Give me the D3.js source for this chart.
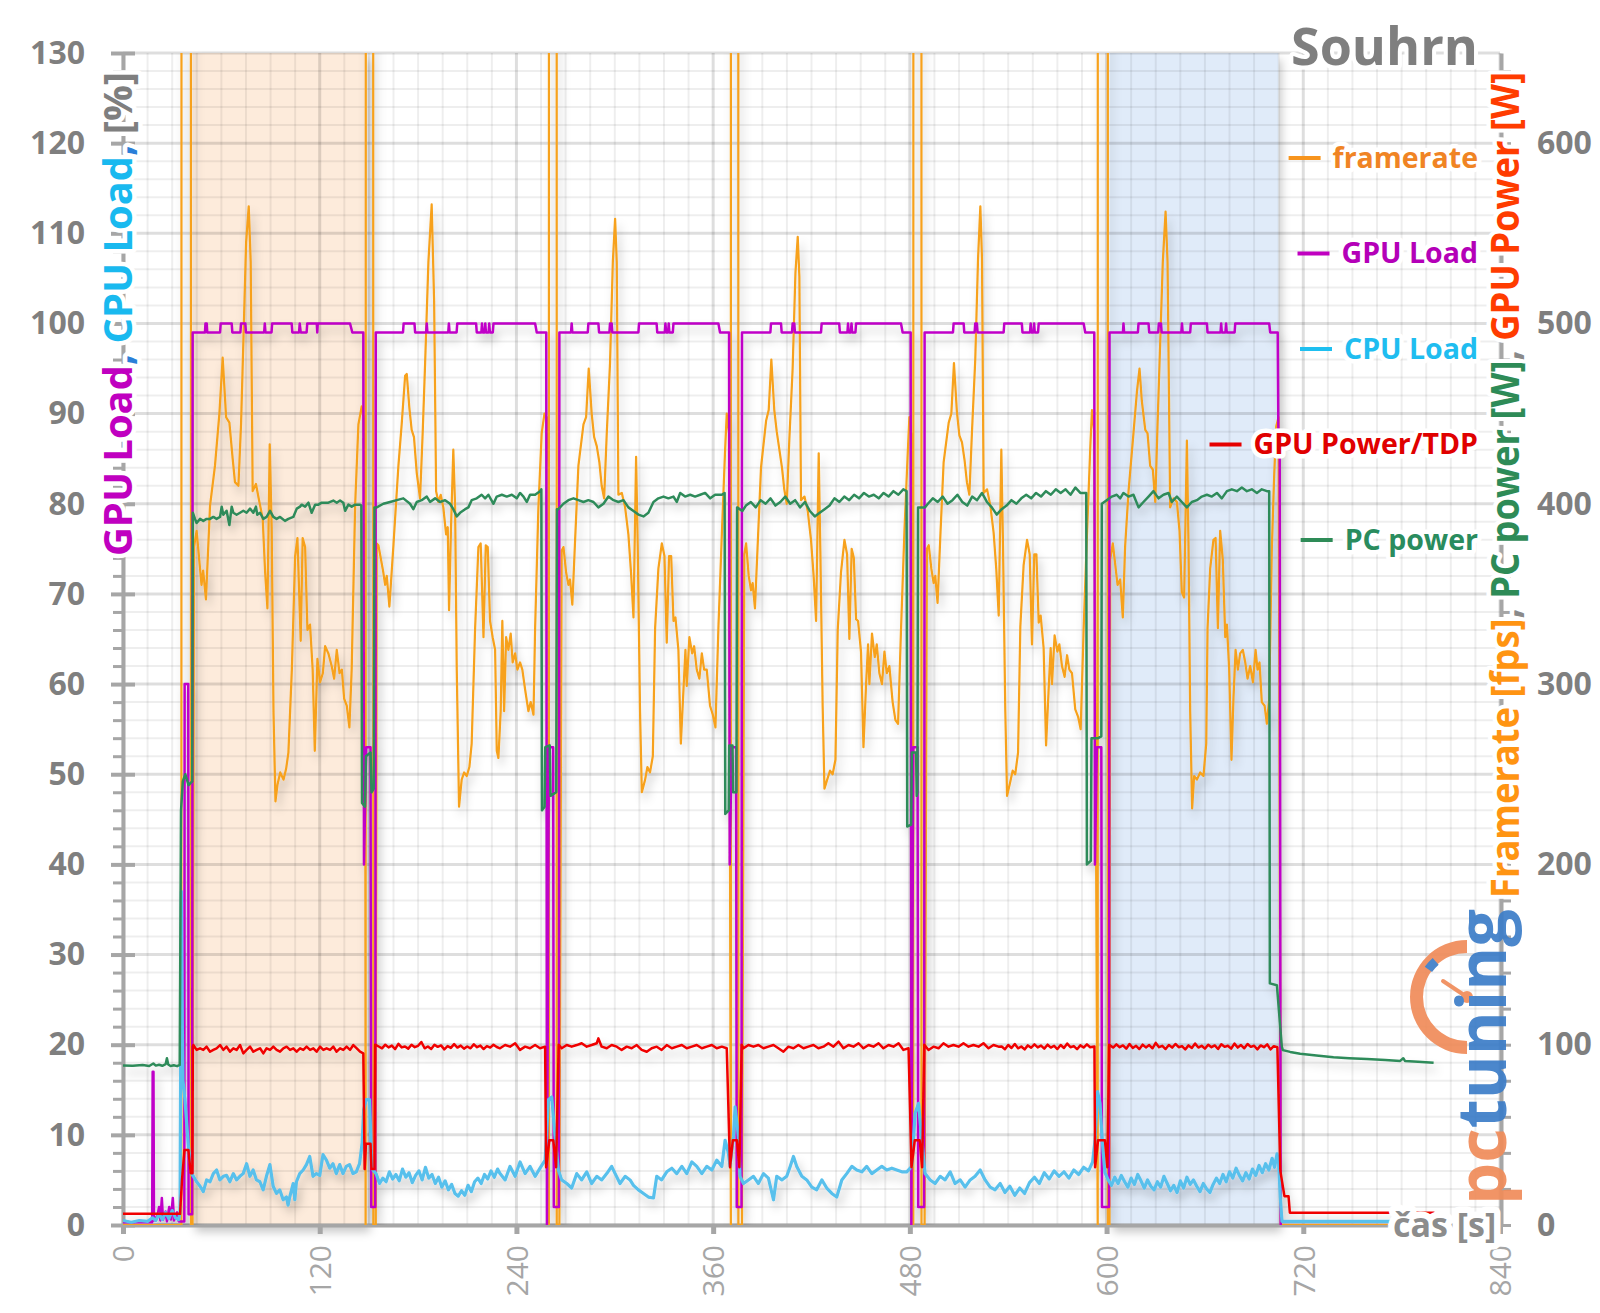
<!DOCTYPE html>
<html>
<head>
<meta charset="utf-8">
<script src="https://cdn.jsdelivr.net/npm/d3@7"></script>
<style>
body { margin: 0; background: #fff; }
svg { display: block; }
text { font-family: "Open Sans", sans-serif; }
</style>
</head>
<body>
<svg width="1600" height="1313"></svg>
<script>
// ---- data: [time s, value] ----
const framerate = [
[0,0],[35.6,0],[35.8,2000],[41.3,2000],[41.5,0],[42.4,0],
[43.3,376],[44.9,385],[47.9,355],[48.9,363],[50.6,347],[53.1,399],[56.1,421],[58.8,450],[60.8,481],[62.9,448],[64.9,445],[66.9,425],[68.3,412],[70.4,410],[72,444],[73.4,489],[75.1,545],[76.7,565],[77.9,534],[79.1,407],[81.1,411],[83.2,401],[85.2,392],[86.7,362],[88.1,342],[89.5,433],[90.7,387],[91.8,285],[93,235],[94.2,244],[95.9,251],[97.9,247],[99.5,253],[100.9,262],[103,308],[105,371],[106.4,381],[108.4,324],[109.6,381],[111.1,376],[112.5,330],[114.1,333],[115.7,308],[117,263],[118.6,314],[120.2,301],[121.9,306],[123.3,321],[125.3,317],[127.3,310],[128.8,303],[130.4,319],[132.1,306],[133.5,308],[134.9,292],[136.5,288],[138.1,276],[139.5,308],[141.6,399],[143.6,444],[145.6,454],[146.7,448],[147.7,399],
[148,0],[148.3,2000],[152.5,2000],[152.7,0],[154.2,0],
[154.8,378],[155.8,377],[158.8,362],[159.9,355],[160.9,360],[162.5,343],[164.9,376],[168,421],[170,444],[172.1,471],[173.1,472],[174.7,453],[176.1,441],[177.5,437],[179.2,417],[181.2,403],[182.8,439],[184.3,478],[186.3,534],[188.3,566],[189.8,512],[191,407],[192.4,401],[193.8,405],[195.4,398],[197.1,383],[198.1,387],[198.9,341],[200.1,387],[201.5,430],[202.6,398],[203.6,308],[205,232],[206.6,247],[208.1,251],[209.7,249],[211.3,254],[212.7,267],[214.8,331],[216.8,376],[218.2,378],[219.9,326],[221.3,377],[222.5,376],[223.9,335],[225.5,326],[227,319],[228,263],[229,259],[230.4,285],[231.4,335],[232.5,285],[233.7,326],[235.1,319],[236.5,328],[237.7,312],[239.2,317],[240.6,308],[242.2,312],[243.6,308],[245.3,297],[247.3,285],[248.7,290],[250.4,283],[251.4,331],[253.4,398],[255.4,439],[257.1,450],[258.5,448],[259.5,421],
[259.8,0],[259.9,2000],[264.5,2000],[264.6,0],[266.2,0],
[267.6,374],[268.7,376],[270.3,362],[271.7,355],[272.7,358],[274.1,344],[275.8,380],[277.8,421],[280.9,444],[282.5,448],[284.1,475],[285.9,450],[287.4,437],[289,432],[290.6,423],[292,410],[293.5,403],[295.1,439],[297.1,478],[298.8,534],[300.2,558],[301.2,534],[302.2,405],[304.3,406],[306.3,398],[308.3,383],[309.9,362],[311.4,337],[313,426],[314,376],[315.4,285],[316.5,240],[318.5,247],[319.9,254],[321.5,251],[323.2,260],[324.6,331],[326.6,364],[328.7,378],[330.3,371],[331.7,323],[333.1,371],[334.4,371],[335.8,335],[337,337],[338.8,319],[340.3,267],[341.9,297],[343.1,319],[343.9,299],[345.5,326],[347.2,317],[348.4,321],[350,308],[351.6,303],[353.1,317],[354.5,308],[356.1,308],[358.1,288],[359.8,283],[361.4,276],[363.2,331],[365.3,383],[367.3,430],[368.3,450],[369.7,439],
[370.8,0],[370.9,2000],[375.3,2000],[375.4,0],[377.6,0],
[379,372],[380.1,378],[381.7,360],[383.1,352],[384.1,356],[385.5,342],[387.2,378],[389.2,420],[392.3,446],[393.9,452],[395.5,480],[397.3,452],[398.8,440],[400.4,430],[402,420],[403.4,408],[404.9,400],[406.5,436],[408.5,475],[410.2,528],[411.6,548],[412.6,526],[413.6,402],[415.7,404],[417.7,396],[419.7,380],[421.3,360],[422.8,335],[424.4,428],[425.4,374],[426.8,288],[427.9,242],[429.9,248],[431.3,252],[432.9,250],[434.6,258],[436,330],[438,362],[440.1,380],[441.7,372],[443.1,325],[444.5,375],[445.8,370],[447.2,336],[448.4,335],[450.2,318],[451.7,265],[453.3,300],[454.5,322],[455.3,300],[456.9,328],[458.6,315],[459.8,322],[461.4,306],[463,300],[464.5,318],[465.9,306],[467.5,310],[469.5,290],[471.2,280],[472.8,278],[474.6,330],[476.7,385],[478.7,428],[479.7,448],[481.1,436],
[482.1,0],[482.2,2000],[487,2000],[487.1,0],[489,0],
[490.4,375],[491.5,377],[493.1,364],[494.5,356],[495.5,360],[496.9,345],[498.6,382],[500.6,423],[503.7,445],[505.3,450],[506.9,478],[508.7,451],[510.2,438],[511.8,434],[513.4,424],[514.8,412],[516.3,405],[517.9,440],[519.9,480],[521.6,536],[523,565],[524,536],[525,406],[527.1,408],[529.1,399],[531.1,384],[532.7,364],[534.2,338],[535.8,430],[536.8,378],[538.2,286],[539.3,238],[541.3,246],[542.7,252],[544.3,250],[546,262],[547.4,332],[549.4,366],[551.5,380],[553.1,372],[554.5,322],[555.9,372],[557.2,372],[558.6,334],[559.8,338],[561.6,320],[563.1,266],[564.7,298],[565.9,320],[566.7,300],[568.3,327],[570,318],[571.2,322],[572.8,310],[574.4,304],[575.9,316],[577.3,308],[578.9,306],[580.9,286],[582.6,282],[584.2,275],[586,330],[588.1,384],[590.1,432],[591.1,452],[592.5,440],
[594.6,0],[594.7,2000],[600.7,2000],[600.8,0],[601.8,0],
[602.2,369],[603.8,378],[605.2,367],[606.7,355],[608.3,358],[609.9,337],[611.3,376],[613.4,407],[616.4,439],[618.5,462],[620.1,475],[621.5,457],[623.6,441],[625,439],[626.6,421],[628.2,419],[629.7,401],[631.1,444],[632.7,489],[634.3,534],[636,562],[637.2,534],[638.8,398],[640.8,403],[642.9,401],[644.5,385],[645.9,351],[647.3,348],[649,435],[650,376],[651,285],[652.2,231],[653.4,249],[655.1,247],[657.1,251],[659.1,249],[660.8,267],[661.6,331],[663.2,364],[665.2,380],[666.5,381],[667.9,331],[669.3,385],[670.9,369],[672.4,326],[673.4,333],[674.8,308],[676.2,258],[677.4,292],[678.7,319],[680.1,308],[681.5,317],[683.1,319],[684.6,312],[686,303],[687.6,310],[689.3,301],[690.9,319],[692.1,308],[693.3,312],[694.7,290],[696.4,288],[697.8,278],[699.2,292],[700.8,375],[702.3,417],[703.5,443],[704.9,448],
[706.3,0],[785,0]
];

const gpuLoad = [
[0,0.3],[17.8,0.3],[18.1,17],[18.6,17],[18.9,0.5],[21,1],[22,2],[22.8,0.5],[23.7,3],[24.4,0.6],[26,1.5],[26.8,0.4],[28.2,2],[29.2,0.6],[30.4,3],[31.1,0.5],[33,1.4],[34,0.4],[37.4,0.4],[37.6,60],[39.8,60],[40,1.2],[42.2,1.2],[42.5,99],
[50,99],[50.3,100],[51.1,100],[51.4,99],[59.2,99],[59.6,100],[66.3,100],[66.7,99],[71.6,99],[72,100],[74.6,100],[75,99],[86.1,99],[86.5,100],[86.9,99],[90.6,99],[91,100],[102.9,100],[103.3,99],[107.4,99],[107.8,100],[108.4,99],[112,99],[112.4,100],[118.2,100],[118.5,99],[118.8,100],[138.5,100],[139.9,99],[146.6,99],
[147,40],[148.4,53],[151,53],[151.4,2],[153.9,2],[154.2,99],
[170.8,99],[171.2,100],[177.8,100],[178.2,99],[184.9,99],[185.3,100],[185.7,99],[198.4,99],[198.8,100],[199.2,99],[203.5,99],[203.9,100],[215.4,100],[215.8,99],[218.6,99],[219,100],[219.4,99],[220.6,99],[221,100],[221.4,99],[223,99],[223.4,100],[223.8,99],[225.6,99],[226,100],[251.4,100],[252.4,99],[258.2,99],
[258.6,0],[259.8,53],[262.4,53],[262.8,2],[265.9,2],[266.2,99],
[273.3,99],[273.7,100],[274.1,99],[283.5,99],[283.9,100],[290,100],[290.4,99],[296.7,99],[297.1,100],[298.1,100],[298.5,99],[314.4,99],[314.8,100],[325.5,100],[325.9,99],[330.5,99],[330.9,100],[331.3,99],[332.5,99],[332.9,100],[333.3,99],[335.4,99],[335.8,100],[363.2,100],[364.2,99],[369.7,99],
[370.1,40],[371.3,53],[374,53],[374.4,2],[377.3,2],[377.6,99],
[394.9,99],[395.3,100],[401.4,100],[401.8,99],[408.1,99],[408.5,100],[409.5,100],[409.9,99],[425.8,99],[426.2,100],[436.9,100],[437.3,99],[441.9,99],[442.3,100],[442.7,99],[444,99],[444.4,100],[444.8,99],[446.8,99],[447.2,100],[474.6,100],[475.6,99],[480.5,99],
[480.9,0],[482.1,53],[484.7,53],[485.1,2],[488.7,2],[489,99],
[506.3,99],[506.7,100],[512.8,100],[513.2,99],[519.5,99],[519.9,100],[520.9,100],[521.3,99],[537.2,99],[537.6,100],[548.3,100],[548.7,99],[553.3,99],[553.7,100],[554.1,99],[555.4,99],[555.8,100],[556.2,99],[558.2,99],[558.6,100],[586,100],[587,99],[592.5,99],
[592.9,40],[594.1,53],[596.8,53],[597.2,2],[601.5,2],[601.8,99],
[610,99],[610.3,100],[610.7,99],[619.1,99],[619.5,100],[625.6,100],[626,99],[631.5,99],[631.9,100],[633.2,100],[633.6,99],[645.6,99],[646,100],[646.4,99],[651,99],[651.4,100],[661.2,100],[661.6,99],[669.5,99],[669.9,100],[670.3,99],[672.5,99],[672.9,100],[673.3,99],[678.1,99],[678.5,100],[699.2,100],[699.8,99],[704.4,99],
[704.8,88],[705.6,88],[706.2,0],[707,0]
];

const cpuLoad = [
[0,0.5],[5,0.3],[10,0.5],[15,0.4],[18,0.8],[20,0.5],[22,1.2],[24,0.6],[26,1.4],[28,0.7],[30,1.6],[32,0.8],[34,0.6],[34.8,1.5],[35.6,37],[36.2,22],[36.6,16],[37.8,13.9],[39.9,8.7],[41.9,5.7],
[44.9,4.8],[47,4.3],[49,3.7],[51,5],[53.1,4.8],[55.1,5.7],[57.1,6.1],[59.1,5],[61.2,5.4],[63.2,5.5],[65.2,4.8],[67.3,5.7],[69.3,5],[71.3,5.4],[73.3,5.7],[75.4,6.8],[77.4,5.4],[79.4,6.1],[81.4,5],[83.5,4.8],[85.5,3.9],[87.5,5.4],[89.6,6.7],[91.6,4.3],[93.6,3.5],[95.6,3.9],[97.7,2.8],[99.7,3.1],[100.7,2.2],[101.7,3.1],[103.8,4.6],[104.8,2.8],[105.8,4.8],[107.8,5.7],[109.9,6.1],[111.9,6.7],[113.9,7.6],[115.9,5.4],[118,5.7],[120,5.5],[122,7.8],[124.1,7.2],[126.1,6.3],[128.1,6.8],[130.1,5.7],[132.2,6.7],[134.2,5.7],[136.2,6.5],[138.2,6.7],[140.3,5.7],[142.3,5.9],[144.3,6.8],[145.9,9.1],[146.8,12.8],[148.4,13.9],[150.4,13.9],[151.4,8.3],[152.4,6.1],[154.4,5.7],[156.5,4.6],
[158.5,5.2],[160.5,4.8],[162.5,5.9],[164.5,5.1],[166.5,5.6],[168.5,4.9],[170.5,6.2],[172.5,5.3],[174.5,5.8],[176.5,4.7],[178.5,5.5],[180.5,6],[182.5,5],[184.5,6.4],[186.5,5.2],[188.5,5.6],[190.5,4.6],[192.5,5.3],[194.5,4.2],[196.5,4.9],[198.5,3.9],[200.5,4.5],[202.5,3.5],[204.5,3.2],[206.5,3.8],[208.5,3.3],[210.5,4.4],[212.5,3.7],[214.5,4.8],[216.5,5.2],[218.5,4.6],[220.5,5.6],[222.5,5.1],[224.5,6],[226.5,5.3],[228.5,6.2],
[230,5.7],[233.1,5],[236.1,6.5],[239.2,5.4],[242.2,7],[245.3,5.7],[248.3,6.5],[251.4,5.4],[254.4,6.3],[257.5,7.2],[259.5,13.9],[261.5,14.2],[263.6,9.8],[265.6,6.1],[267.6,5],[270.7,4.6],[273.7,4.1],[276.8,5.7],[279.8,5],[282.9,5.9],[285.9,4.6],[289,5.4],[292,5],[295.1,5.7],[298.1,6.5],[300.2,5.7],[303.2,4.6],[306.3,5.4],[309.3,5],[311.4,4.4],[314.4,3.9],[317.5,3.5],[320.5,3.1],[323.6,3],[325.6,5.4],[328.6,5],[331.7,5.9],[334.8,6.3],[337.8,5.7],[340.9,6.5],[343.9,5.7],[347,7],[350,6.5],[353.1,5.7],[356.1,6.5],[359.2,6.1],[362.2,7.2],[365.3,6.5],[367.3,9.4],[369.3,8],[370.3,6.5],[372.4,9.8],[373.4,13.1],[375.4,9.8],[376.4,5.4],[378.5,4.6],[381.5,5],[384.6,5.4],[387.6,4.6],[390.7,5.7],[393.7,5.2],[396.8,2.8],[398.8,5.4],[401.9,5],[404.9,5.4],[407,6.5],[409,7.6],[411,6.5],[414.1,5.4],[417.1,5],[420.2,4.2],[423.2,3.9],[426.3,5],[429.3,4.1],[432.4,3.5],[435.4,3.1],[438.5,5],[441.5,5.7],[444.6,6.5],[447.6,6.1],[450.7,5.9],[453.7,6.5],[456.8,5.7],[459.8,6.1],[462.9,6.5],[465.9,6.1],[469,6.3],[472,6.1],[475.1,5.9],[478.1,5.9],[481.2,6.5],[483.2,12.4],[485.3,13.5],[487.3,9.4],[489.3,5.7],[492.4,5],[495.4,4.6],[498.5,5.4],[501.5,5],[504.6,5.9],[507.6,4.6],[510.7,5],[513.7,4.2],[516.8,5],[519.8,5.4],[522.9,6.1],[525.9,5],[529,4.2],[532,3.9],[535.1,4.6],
[538,3.6],[541,4.3],[544,3.3],[547,4.1],[550,3.5],[553,4.7],[556,5.3],[559,4.6],[562,5.8],[565,5.1],[568,6],[571,5.4],[574,5.9],[577,5.2],[580,6.1],[583,5.6],[586,6.4],[589,6],[591.5,7],[593,9.5],[594.5,14.8],[596,13.5],[597.5,9],[599,5.8],[601,5],[603,4.4],[605,5.3],[607,4.6],[609,5.5],[611,4.8],[613,4.2],[615,5.2],[617,4.5],[619,5.6],[621,4.9],[623,4.1],[625,5],[627,4.3],[629,3.9],[631,4.8],[633,4.2],[635,5.4],[637,4.6],[639,3.8],[641,4.4],[643,3.6],[645,4.9],[647,4.1],[649,5.3],[651,4.5],[653,5],[655,4.3],[657,3.7],[659,4.6],[661,4],[663,3.6],[665,4.5],[667,5.2],[669,4.6],[671,5.6],[673,4.8],[675,5.9],[677,5.2],[679,6.3],[681,5.5],[683,4.9],[685,5.8],[687,5.1],[689,6.2],[691,5.5],[693,6.6],[695,5.8],[697,6.8],[699,6.1],[701,7.4],[702.5,6.4],[704,7.9],[705,6.8],[706,3],[707,0.4],[785,0.4]
];

const gpuPower = [
[0,6.2],[34.8,6.2],[36,25],[37.5,41.6],[39.9,41.6],[41.3,28.7],[42.3,28.7],[42.6,99],
[42.9,99.8],[44.9,97.1],[47,98],[49,97.1],[51,98.9],[53.1,96.1],[55.1,97.1],[57.1,98],[59.2,99.8],[61.2,97.1],[63.2,98.9],[65.3,96.1],[67.3,98],[69.3,97.1],[71.4,99.8],[73.4,95.2],[75.4,97.1],[77.5,98.9],[79.5,96.1],[81.5,97.1],[83.6,98],[85.6,95.2],[87.6,98],[89.7,97.1],[91.7,98.9],[93.7,97.1],[95.8,96.1],[97.8,98],[99.8,98.9],[101.9,97.1],[103.9,98],[105.9,96.1],[108,98],[110,97.1],[112,98.9],[114.1,97.1],[116.1,98],[118.1,96.1],[120.2,98.9],[122.2,97.1],[124.2,98],[126.3,97.1],[128.3,98.9],[130.3,96.1],[132.4,98],[134.4,97.1],[136.4,98.9],[138.5,97.1],[140.5,99.8],[142.6,98],[144.6,96.1],[146.6,95.2],
[147.4,31],[148.2,45],[151,45],[151.6,31],[153.4,31],[153.8,100],
[156,99],[158,98],[160,100],[162,98.5],[164,99.5],[166,97.5],[168,100.5],[170,98.5],[172,99],[174,97.8],[176,100],[178,98.6],[180,99.4],[182,101.5],[184,98],[186,99],[188,97.6],[190,100],[192,98.8],[194,99.6],[196,97.4],[198,99.2],[200,98.2],[202,100.3],[204,98.4],[206,99.5],[208,97.8],[210,99],[212,98],[214,100.2],[216,98.6],[218,99.5],[220,97.6],[222,99.2],[224,98.4],[226,100],[228,98.7],
[230,98],[233.1,99.8],[236.1,98.9],[239.2,100.8],[242.2,97.1],[245.3,98.9],[248.3,98],[251.4,99.8],[254.4,98],[257.5,98.9],
[258.1,32],[260.1,47],[262.5,47],[264.2,32],[265.8,100],
[267.6,98],[270.7,99.8],[273.7,98.9],[276.8,99.8],[279.8,100.8],[282.9,98.9],[285.9,99.8],[289,100.8],[290,103.5],[292,98.9],[295.1,98],[298.1,99.8],[301.2,98.9],[304.2,97.1],[307.3,98.9],[310.3,98],[313.4,99.8],[316.4,97.1],[319.5,96.1],[322.5,98],[325.6,98.9],[328.6,97.1],[331.7,99.8],[334.8,98],[337.8,98.9],[340.9,99.8],[343.9,98],[347,98.9],[350,99.8],[353.1,98],[356.1,98.9],[359.2,99.8],[362.2,98],[365.3,98.9],[368.3,98],
[370.3,32],[372,47],[374.5,47],[376,32],[377.4,100],
[378.5,98],[381.5,99.8],[384.6,98.9],[387.6,99.8],[390.7,98],[393.7,98.9],[396.8,99.8],[399.8,98],[402.9,96.1],[405.9,98.9],[409,98],[412,99.8],[415.1,98],[418.1,98.9],[421.2,99.8],[424.2,98],[427.3,98.9],[430.3,100.8],[433.4,98.9],[436.5,101.7],[439.5,98],[442.6,99.8],[445.6,98.9],[448.7,100.8],[451.7,98],[454.8,99.8],[457.8,98.9],[460.9,100.8],[463.9,98],[467,99.8],[470,98.9],[473.1,100.8],[476.1,97.1],[479.2,98],
[481,32],[483,47],[486,47],[487.5,32],[488.8,100],
[491.4,97.1],[494.4,98.9],[497.5,98],[500.5,100.8],[503.6,98.9],[506.6,99.8],[509.7,98.9],[512.7,100.8],[515.8,98.9],[518.8,99.8],[521.9,98.9],[524.9,100.8],[528,98],[531,99.8],[534.1,98.9],
[536,99],[538,97.5],[540,99.8],[542,98.2],[544,100.4],[546,98],[548,99],[550,97.4],[552,99.6],[554,98.3],[556,100.2],[558,98.5],[560,99.5],[562,97.8],[564,100],[566,98.4],[568,99.4],[570,97.6],[572,99.8],[574,98.2],[576,100.6],[578,98.6],[580,99.2],[582,97.5],[584,99.6],[586,98.4],[588,100.2],[590,98.6],[592.6,99],
[593,32],[594.8,47],[599,47],[600.5,32],[601.6,100],
[604,98.4],[606,100.2],[608,98.6],[610,99.6],[612,97.8],[614,100.4],[616,98.2],[618,99.4],[620,97.6],[622,100],[624,98.5],[626,99.8],[628,98],[630,101],[632,98.6],[634,99.4],[636,97.6],[638,99.8],[640,98.4],[642,100.4],[644,98.6],[646,99.2],[648,97.4],[650,99.6],[652,98.2],[654,100.6],[656,98.4],[658,99.4],[660,97.8],[662,100],[664,98.6],[666,99.6],[668,97.6],[670,100.2],[672,98.8],[674,99.4],[676,97.8],[678,100.6],[680,98.4],[682,99.8],[684,98],[686,100.4],[688,98.8],[690,99.4],[692,97.4],[694,99.6],[696,98.6],[698,100.2],[700,97.4],[702,99.2],[704.2,98.6],
[705.2,60],[706,30],[708.5,16],[711,16],[711.8,6.8],[800,6.8]
];

const pcPower = [
[0,88.5],[6,88.3],[12,88.7],[16,88.2],[18.5,89.6],[20,88.4],[22,88.9],[24,88.3],[26,89.2],[26.8,92.5],[27.6,89],[29,88.2],[31,88.6],[33,88.1],[34.6,88.8],[35.4,230],[36.5,246],[38,250],[40,244],[42.2,246],[42.6,395],
[43.9,391.6],[44.9,389.3],[47,391.6],[49,390.5],[51,391.6],[53.1,391.6],[55.1,392.7],[57.1,391.6],[59.2,392.7],[60.2,398.4],[61.2,393.9],[63.2,396.1],[64.9,388.2],[66.3,398.4],[67.3,395],[69.3,393.9],[71.4,395],[73.4,396.1],[75.4,395],[77.5,397.3],[79.5,395],[81.1,398.4],[81.9,393.9],[83.6,395],[85.6,391.6],[87.6,392.7],[89.7,396.1],[91.7,392.7],[93.7,391.6],[95.8,392.7],[98.8,390.5],[100.9,391.6],[103.9,392.7],[106,397.3],[108,398.4],[109,399.5],[111.1,398.4],[113.1,400.6],[115.1,395],[117.2,399.5],[119.2,399.5],[121.2,400.6],[123.3,400.6],[125.3,400.6],[128.3,401.8],[130.4,400.6],[132.4,401.8],[134.4,400.6],[135.5,396.1],[137.5,399.5],[139.5,398.4],[141.6,399.5],[144.6,399.5],[145.4,399],
[145.8,234],[147.6,232],[148.2,260],[151,262],[151.6,240],[153,242],[153.4,398],
[154.8,398],[158.8,400],[162.9,401],[167,402],[171,403],[175.1,400],[177.1,397],[179.2,401],[182.2,402],[185.3,404],[187.3,401],[190.4,403],[193.4,401],[196.5,402],[199.5,400],[201.5,397],[203.6,393],[205.6,395],[208.7,397],[210.7,398],[212.7,402],[215.8,403],[218.8,405],[220.9,403],[222.9,405],[226,400],[228,404],[231.1,405],[234.1,404],[237.2,405],[240.2,403],[242.2,406],[244.3,404],[246.3,401],[248.3,405],[251.4,405],[254.4,407],[255.2,408],
[255.6,230],[257.2,232],[257.6,265],[260.3,266],[260.8,238],[264.3,240],[264.7,397],
[265.6,397],[268.7,400],[271.7,402],[274.8,403],[277.8,402],[280.9,401],[283.9,402],[287,401],[290,398],[293.1,400],[296.1,404],[299.2,402],[302.2,401],[305.3,402],[308.3,398],[311.4,396],[314.4,394],[317.5,393],[320.5,395],[323.6,401],[326.6,403],[329.7,404],[332.7,403],[335.8,404],[337.8,401],[339.9,406],[342.9,404],[346,405],[349,404],[352.1,405],[355.1,406],[358.2,403],[361.2,405],[365.3,405],[367,406],
[367.4,228],[369.5,230],[369.8,266],[371.8,266],[372.2,240],[374.2,240],[374.6,398],
[377.8,396],[380,399],[383,401],[386,398],[389,402],[392,400],[395,403],[398,399],[401,401],[404,404],[407,400],[410,402],[413,398],[416,401],[419,396],[422,393],[425,395],[428,397],[431,399],[434,403],[437,401],[440,404],[443,402],[446,405],[449,403],[452,406],[455,404],[458,405],[461,403],[464,406],[467,404],[470,407],[473,405],[476,408],[478,407],
[478.4,221],[480.8,222],[481.2,262],[483.8,262],[484.2,238],[484.6,240],[485,398],
[489.2,398],[491,400],[494,403],[497,401],[500,404],[503,400],[506,402],[509,405],[512,401],[515,399],[518,404],[521,402],[524,406],[527,401],[530,398],[533,394],[536,397],[539,399],[542,402],[545,400],[548,403],[551,405],[554,403],[557,406],[560,404],[563,407],[566,405],[569,408],[572,406],[575,408],[578,405],[581,409],[584,406],[587.6,406],
[588,200],[590.4,202],[590.8,270],[594.8,270],[596.8,271],[597.1,400],
[600.1,402],[603.2,404],[606.2,405],[608.3,403],[610.3,406],[613.4,404],[616.4,405],[619.5,398],[622.5,401],[625.6,404],[628.6,407],[631.7,403],[634.7,405],[637.8,406],[639.8,401],[642.9,404],[645.9,401],[649,398],[652,401],[655.1,402],[658.1,404],[661.2,405],[664.2,404],[667.3,406],[670.3,403],[673.4,407],[676.4,408],[679.5,407],[682.5,409],[685.6,407],[688.6,408],[691.7,406],[694.7,408],[697.8,407],[699.2,407],
[699.6,134],[703.9,133],[706.9,99],[707.5,97],[712,96],[718.1,95],[728,94],[738.4,93],[748,92.5],[758.8,92],[770,91.5],[779.1,91],[781,92.5],[782,91],[790,90.5],[799.5,90]
];

const bands = [[42.3, 148.9], [602, 704.8]];
const timeTicks = [0, 120, 240, 360, 480, 600, 720, 840];
const leftTicks = [0, 10, 20, 30, 40, 50, 60, 70, 80, 90, 100, 110, 120, 130];
const rightTicks = [0, 100, 200, 300, 400, 500, 600];
const legendNames = ["framerate", "GPU Load", "CPU Load", "GPU Power/TDP", "PC power"];

// ---- chart ----
const svg = d3.select("svg");
const x = d3.scaleLinear().domain([0, 840]).range([123, 1500]);
const yL = d3.scaleLinear().domain([0, 130]).range([1225, 53]);
const yR = d3.scaleLinear().domain([0, 650]).range([1225, 53]);

const defs = svg.append("defs");
defs.append("clipPath").attr("id", "plot")
	.append("rect").attr("x", 123).attr("y", 53).attr("width", 1377).attr("height", 1172);
const sh = defs.append("filter").attr("id", "shadow")
	.attr("x", "-5%").attr("y", "-5%").attr("width", "110%").attr("height", "110%");
sh.append("feDropShadow").attr("dx", 3).attr("dy", 7).attr("stdDeviation", 5)
	.attr("flood-color", "#000").attr("flood-opacity", 0.22);

const halo = (sel, w) => sel.attr("stroke", "#fff").attr("stroke-width", w)
	.attr("stroke-linejoin", "round").attr("paint-order", "stroke");

// bands
const bandColors = ["#fdebdb", "#e0ebf9"];
svg.append("g").attr("filter", "url(#shadow)")
	.selectAll("rect").data(bands).join("rect")
	.attr("x", (d) => x(d[0])).attr("width", (d) => x(d[1]) - x(d[0]))
	.attr("y", yL(130)).attr("height", yL(0) - yL(130))
	.attr("fill", (d, i) => bandColors[i]);

// grid
const grid = svg.append("g");
grid.selectAll(".vx").data(d3.range(0, 841, 15)).join("line")
	.attr("x1", (d) => x(d)).attr("x2", (d) => x(d)).attr("y1", yL(130)).attr("y2", yL(0))
	.attr("stroke", (d) => (d % 120 === 0 ? "rgba(0,0,0,0.13)" : "rgba(0,0,0,0.065)"))
	.attr("stroke-width", (d) => (d % 120 === 0 ? 3 : 2));
grid.selectAll(".hy").data(d3.range(0, 131, 2)).join("line")
	.attr("x1", x(0)).attr("x2", x(840)).attr("y1", (d) => yL(d)).attr("y2", (d) => yL(d))
	.attr("stroke", (d) => (d % 10 === 0 ? "rgba(0,0,0,0.13)" : "rgba(0,0,0,0.065)"))
	.attr("stroke-width", (d) => (d % 10 === 0 ? 3 : 2));

// axes
const axisColor = "#a6a6a6";
const gL = svg.append("g").attr("transform", "translate(123,0)")
	.call(d3.axisLeft(yL).tickValues(d3.range(0, 131, 2)).tickSize(10).tickSizeOuter(0).tickPadding(28)
		.tickFormat((d) => (leftTicks.includes(d) ? d : "")));
const gR = svg.append("g").attr("transform", "translate(1501,0)")
	.call(d3.axisRight(yR).tickValues(d3.range(0, 651, 20)).tickSize(10).tickSizeOuter(0).tickPadding(26)
		.tickFormat((d) => (rightTicks.includes(d) ? d : "")));
const gB = svg.append("g").attr("transform", "translate(0,1225)")
	.call(d3.axisBottom(x).tickValues(timeTicks).tickSize(9).tickSizeOuter(0));
[gL, gR, gB].forEach((g) => {
	g.select(".domain").attr("stroke", axisColor).attr("stroke-width", 4);
	g.selectAll(".tick line").attr("stroke", axisColor).attr("stroke-width", 3);
});
gL.selectAll(".tick line").filter((d) => d % 10 === 0).attr("x1", 12).attr("x2", -12).attr("stroke-width", 4);
gL.selectAll(".tick text").attr("font-size", 32).attr("font-weight", 700).attr("fill", "#7f7f7f")
	.attr("font-family", "Open Sans");
gR.selectAll(".tick text").attr("font-size", 32).attr("font-weight", 700).attr("fill", "#7f7f7f")
	.attr("font-family", "Open Sans");
gB.selectAll(".tick line").attr("stroke-width", 5);
gB.selectAll(".tick text").attr("font-size", 30).attr("fill", "#a6a6a6").attr("font-family", "Open Sans")
	.attr("transform", "rotate(-90)").attr("text-anchor", "end")
	.attr("x", -20).attr("y", 0).attr("dy", "0.36em");

// series
const lines = svg.append("g").attr("clip-path", "url(#plot)").append("g").attr("filter", "url(#shadow)");
const series = [
	{ data: framerate, y: yR, color: "#f7a11a", w: 2.2 },
	{ data: gpuLoad, y: yL, color: "#c000c8", w: 2.5 },
	{ data: cpuLoad, y: yL, color: "#58c0ec", w: 3.2 },
	{ data: gpuPower, y: yR, color: "#f00000", w: 2.5 },
	{ data: pcPower, y: yR, color: "#2e8b5a", w: 2.5 }
];
series.forEach((s) => {
	const line = d3.line().x((d) => x(d[0])).y((d) => s.y(d[1]));
	lines.append("path").datum(s.data).attr("d", line).attr("fill", "none")
		.attr("stroke", s.color).attr("stroke-width", s.w).attr("stroke-linejoin", "round");
});

// axis titles
const lt = svg.append("text").attr("transform", "translate(132,556) rotate(-90)")
	.attr("font-size", 40).attr("font-weight", 700).attr("textLength", 484).attr("lengthAdjust", "spacingAndGlyphs");
halo(lt, 9);
[["GPU Load", "#c000c0"], [", ", "#2a7fd8"], ["CPU Load", "#19b9ef"], [", ", "#2a7fd8"], ["[%]", "#7f7f7f"]]
	.forEach((p) => lt.append("tspan").text(p[0]).attr("fill", p[1]));

const rt = svg.append("text").attr("transform", "translate(1519,898) rotate(-90)")
	.attr("font-size", 40).attr("font-weight", 700).attr("textLength", 826).attr("lengthAdjust", "spacingAndGlyphs");
halo(rt, 9);
[["Framerate [fps]", "#ff9412"], [", ", "#8a8a8a"], ["PC power [W]", "#2e8b57"], [", ", "#8a8a8a"], ["GPU Power [W]", "#ff3c00"]]
	.forEach((p) => rt.append("tspan").text(p[0]).attr("fill", p[1]));

// title
halo(svg.append("text").attr("x", 1478).attr("y", 65).attr("text-anchor", "end")
	.attr("font-size", 52).attr("font-weight", 700).attr("fill", "#7f7f7f").text("Souhrn"), 8);

// x label
halo(svg.append("text").attr("x", 1393).attr("y", 1237).attr("font-size", 34).attr("font-weight", 700)
	.attr("fill", "#8c8c8c").text("čas [s]"), 13);

// legend
const legLine = ["#f7941d", "#c000c0", "#1ebff0", "#e60000", "#2e8b57"];
const legText = ["#f08424", "#b400b8", "#1fbdf0", "#e00000", "#2a8c5e"];
legendNames.forEach((name, i) => {
	const cy = 158 + i * 95.5;
	const t = svg.append("text").attr("x", 1478).attr("y", cy).attr("dy", "0.35em").attr("text-anchor", "end")
		.attr("font-size", 28.5).attr("font-weight", 700).attr("fill", legText[i]).text(name);
	halo(t, 9);
	const w = t.node().getComputedTextLength();
	svg.append("line").attr("x1", 1478 - w - 44).attr("x2", 1478 - w - 12).attr("y1", cy).attr("y2", cy)
		.attr("stroke", legLine[i]).attr("stroke-width", 4);
});

// logo
const logo = svg.append("g").attr("opacity", 0.92);
const lc = [1467, 997];
logo.append("path").attr("transform", `translate(${lc})`).attr("fill", "#f08c5a")
	.attr("d", d3.arc()({ innerRadius: 44, outerRadius: 57, startAngle: Math.PI, endAngle: 2 * Math.PI }));
logo.append("path").attr("transform", `translate(${lc})`).attr("fill", "#3c7dc8")
	.attr("d", d3.arc()({ innerRadius: 43, outerRadius: 52, startAngle: 2 * Math.PI - 0.95, endAngle: 2 * Math.PI - 0.72 }));
logo.append("line").attr("x1", lc[0]).attr("y1", lc[1]).attr("x2", lc[0] - 24).attr("y2", lc[1] - 16)
	.attr("stroke", "#f08c5a").attr("stroke-width", 4).attr("stroke-linecap", "round");
logo.append("circle").attr("cx", lc[0]).attr("cy", lc[1]).attr("r", 6).attr("fill", "#f08c5a");
const lg = logo.append("text").attr("transform", "translate(1506,1205) rotate(-90)")
	.attr("font-family", "Noto Sans").attr("font-size", 68).attr("font-weight", 700)
	.attr("textLength", 296).attr("lengthAdjust", "spacingAndGlyphs");
lg.append("tspan").text("pc").attr("fill", "#f08c5a");
lg.append("tspan").text("tuning").attr("fill", "#3c7dc8");
</script>
</body>
</html>
